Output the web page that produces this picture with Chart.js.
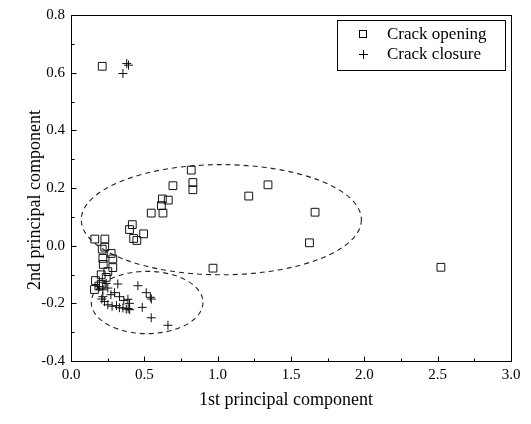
<!DOCTYPE html>
<html><head><meta charset="utf-8">
<script src="https://cdn.jsdelivr.net/npm/chart.js@4/dist/chart.umd.min.js"></script>
<style>html,body{margin:0;padding:0;background:#fff}#wrap{width:531px;height:424px;position:relative}</style>
</head><body><div id="wrap"><canvas id="c"></canvas></div>
<script>
// ---- data ----
const openingX = [0.213,0.820,0.831,0.831,0.695,1.343,1.212,0.623,0.663,0.616,0.547,0.627,0.418,0.399,0.495,0.427,0.449,0.162,0.231,0.968,1.664,1.626,2.522,0.213,0.274,0.285,0.217,0.285,0.251,0.206,0.167,0.160,0.206,0.220,0.240,0.190,0.230];
const openingY = [0.622,0.262,0.219,0.194,0.208,0.211,0.172,0.162,0.158,0.139,0.113,0.113,0.073,0.056,0.041,0.025,0.018,0.023,0.023,-0.078,0.116,0.010,-0.075,-0.012,-0.027,-0.046,-0.044,-0.076,-0.090,-0.101,-0.121,-0.152,-0.134,-0.065,-0.110,-0.140,-0.005];
const closureX = [0.354,0.380,0.392,0.319,0.456,0.513,0.541,0.548,0.486,0.547,0.661,0.297,0.331,0.388,0.399,0.354,0.377,0.310,0.330,0.390,0.400,0.217,0.229,0.251,0.195,0.240,0.251,0.217,0.210,0.280,0.272,0.360];
const closureY = [0.597,0.632,0.626,-0.133,-0.139,-0.163,-0.179,-0.185,-0.214,-0.250,-0.276,-0.163,-0.177,-0.186,-0.200,-0.216,-0.220,-0.208,-0.215,-0.218,-0.222,-0.177,-0.194,-0.205,-0.142,-0.131,-0.147,-0.153,-0.185,-0.210,-0.170,-0.190];
const xTickLabels = ["0.0","0.5","1.0","1.5","2.0","2.5","3.0"];
const yTickLabels = ["-0.4","-0.2","0.0","0.2","0.4","0.6","0.8"];
const seriesNames = ["Crack opening","Crack closure"];
// cluster ellipses (data units): centre x, centre y, half-width, half-height
const ellipseCX = [1.025, 0.519];
const ellipseCY = [0.090, -0.197];
const ellipseRX = [0.955, 0.381];
const ellipseRY = [0.191, 0.108];

const FONT = '"Liberation Serif","Times New Roman",serif';

function pts(xs, ys){ return xs.map((x,i)=>({x:x,y:ys[i]})); }

const extras = {
  id:'extras',
  beforeDatasetsDraw(chart){
    const ctx = chart.ctx, xs = chart.scales.x, ys = chart.scales.y;
    ctx.save();
    ctx.strokeStyle = '#222'; ctx.lineWidth = 1.1; ctx.setLineDash([5,4]);
    for (let i=0;i<ellipseCX.length;i++){
      const cx = xs.getPixelForValue(ellipseCX[i]);
      const cy = ys.getPixelForValue(ellipseCY[i]);
      const rx = Math.abs(xs.getPixelForValue(ellipseCX[i]+ellipseRX[i]) - cx);
      const ry = Math.abs(ys.getPixelForValue(ellipseCY[i]+ellipseRY[i]) - cy);
      ctx.beginPath(); ctx.ellipse(cx, cy, rx, ry, 0, 0, Math.PI*2); ctx.stroke();
    }
    ctx.restore();
  },
  afterDraw(chart){
    const ctx = chart.ctx, a = chart.chartArea, xs = chart.scales.x, ys = chart.scales.y;
    ctx.save();
    ctx.strokeStyle = '#000'; ctx.lineWidth = 1; ctx.setLineDash([]);
    const L = Math.round(a.left)+0.5, R = Math.round(a.right)+0.5, T = Math.round(a.top)+0.5, B = Math.round(a.bottom)+0.5;
    ctx.strokeRect(L, T, R-L, B-T);
    // inward ticks: bottom and left
    ctx.beginPath();
    for (let v=0; v<=3.0001; v+=0.25){
      const px = Math.round(xs.getPixelForValue(v))+0.5;
      const len = (Math.abs(v/0.5 - Math.round(v/0.5))<1e-6) ? 5 : 3;
      ctx.moveTo(px, B); ctx.lineTo(px, B-len);
    }
    for (let v=-0.4; v<=0.8001; v+=0.1){
      const py = Math.round(ys.getPixelForValue(v))+0.5;
      const k = (v+0.4)/0.2;
      const len = (Math.abs(k - Math.round(k))<1e-6) ? 5 : 3;
      ctx.moveTo(L, py); ctx.lineTo(L+len, py);
    }
    ctx.stroke();
    // axis titles
    ctx.fillStyle = '#000';
    ctx.font = '18px ' + FONT;
    ctx.textAlign = 'center'; ctx.textBaseline = 'middle';
    ctx.fillText('1st principal component', 286, 400);
    ctx.save(); ctx.translate(35, 200); ctx.rotate(-Math.PI/2);
    ctx.fillText('2nd principal component', 0, 0); ctx.restore();
    // legend
    ctx.strokeRect(337.5, 20.5, 168, 50);
    ctx.font = '17px ' + FONT; ctx.textAlign = 'left';
    ctx.strokeRect(359.5, 30.5, 7, 7);
    ctx.fillText(seriesNames[0], 387, 35);
    ctx.beginPath(); ctx.moveTo(359, 54.5); ctx.lineTo(368, 54.5); ctx.moveTo(363.5, 50); ctx.lineTo(363.5, 59); ctx.stroke();
    ctx.fillText(seriesNames[1], 387, 55);
    ctx.restore();
  }
};

new Chart(document.getElementById('c'), {
  type:'scatter',
  data:{ datasets:[
    { label:seriesNames[0], data:pts(openingX, openingY), pointStyle:'rect', pointRadius:5.5, pointHoverRadius:5.5,
      borderColor:'#111', backgroundColor:'rgba(0,0,0,0)', borderWidth:1 },
    { label:seriesNames[1], data:pts(closureX, closureY), pointStyle:'cross', pointRadius:4.5, pointHoverRadius:4.5,
      borderColor:'#111', backgroundColor:'#111', borderWidth:1 }
  ]},
  options:{
    responsive:true, maintainAspectRatio:false, animation:false, devicePixelRatio:1,
    layout:{ padding:{ left:0, top:10, right:20, bottom:0 } },
    plugins:{ legend:{display:false}, tooltip:{enabled:false} },
    scales:{
      x:{ type:'linear', min:0, max:3, afterFit(s){ s.height = 63; },
          afterBuildTicks(s){ s.ticks = xTickLabels.map(t=>({value:parseFloat(t)})); },
          grid:{display:false, drawTicks:false}, border:{display:false},
          ticks:{ padding:5, color:'#000', font:{family:FONT, size:15}, maxRotation:0,
                  callback:(v,i)=>xTickLabels[i] } },
      y:{ type:'linear', min:-0.4, max:0.8, afterFit(s){ s.width = 71; },
          afterBuildTicks(s){ s.ticks = yTickLabels.map(t=>({value:parseFloat(t)})); },
          grid:{display:false, drawTicks:false}, border:{display:false},
          ticks:{ padding:6, color:'#000', font:{family:FONT, size:15},
                  callback:(v,i)=>yTickLabels[i] } }
    }
  },
  plugins:[extras]
});
</script></body></html>
